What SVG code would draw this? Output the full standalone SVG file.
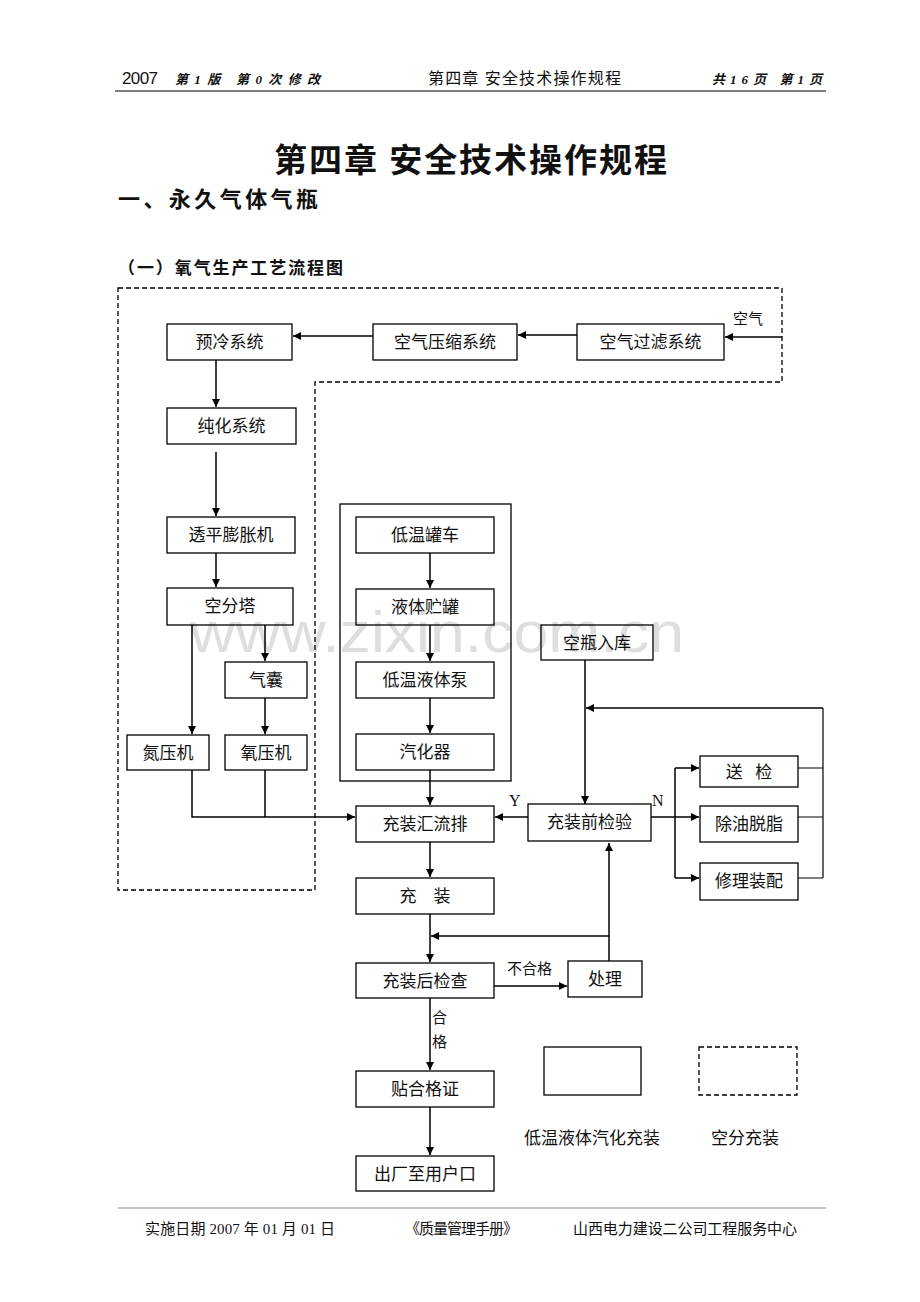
<svg xmlns="http://www.w3.org/2000/svg" width="920" height="1302" viewBox="0 0 920 1302">
<style>
.bx{fill:none;stroke:#000;stroke-width:1.3}
.t{font-family:"Liberation Serif","Noto Sans CJK SC",serif;font-size:17px;fill:#111;text-anchor:middle}
.ln{fill:none;stroke:#000;stroke-width:1.5}
.lb{font-family:"Liberation Serif","Noto Sans CJK SC",serif;font-size:15px;fill:#111}
.hd{font-family:"Liberation Serif","Noto Sans CJK SC",serif;fill:#111}
</style>
<defs>
<marker id="ar" viewBox="0 0 10 10" refX="10" refY="5" markerWidth="8" markerHeight="8" markerUnits="userSpaceOnUse" orient="auto">
<path d="M0,0 L10,5 L0,10 Z" fill="#000"/>
</marker>
</defs>
<rect width="920" height="1302" fill="#fff"/>

<g id="watermark">
<text x="190" y="652" style="font-family:'Liberation Sans',sans-serif;font-size:58px" fill="#dedede" textLength="494" lengthAdjust="spacingAndGlyphs">www.zixin.com.cn</text>
</g>

<g id="header">
<text x="122" y="84" style="font-family:'Liberation Sans',sans-serif;font-size:17px" fill="#111" textLength="36">2007</text>
<text class="hd" x="175" y="84" font-size="13" font-weight="bold" font-style="italic" textLength="145">第1版  第0次修改</text>
<text class="hd" x="428" y="84" font-size="16" textLength="193">第四章  安全技术操作规程</text>
<text class="hd" x="712" y="84" font-size="13" font-weight="bold" font-style="italic" textLength="110">共16页 第1页</text>
<line x1="115" y1="91" x2="826" y2="91" stroke="#555" stroke-width="1.5"/>
</g>

<g id="titles">
<text class="hd" x="274" y="172" font-size="33" font-weight="bold" textLength="393">第四章 安全技术操作规程</text>
<text class="hd" x="118" y="207" font-size="22" font-weight="bold" textLength="200">一、永久气体气瓶</text>
<text class="hd" x="118" y="274" font-size="17" font-weight="bold" textLength="225">（一）氧气生产工艺流程图</text>
</g>

<g id="regions">
<path d="M118,288 H782 V382 H315 V890 H118 Z" fill="none" stroke="#000" stroke-width="1.3" stroke-dasharray="5,3"/>
<rect x="340" y="504" width="171" height="277" fill="none" stroke="#000" stroke-width="1.3"/>
</g>

<g id="connectors">
<line class="ln" x1="782" y1="337" x2="725" y2="337" marker-end="url(#ar)"/>
<line class="ln" x1="577" y1="335" x2="518" y2="335" marker-end="url(#ar)"/>
<line class="ln" x1="373" y1="336" x2="293" y2="336" marker-end="url(#ar)"/>
<line class="ln" x1="216" y1="360" x2="216" y2="407" marker-end="url(#ar)"/>
<line class="ln" x1="216" y1="452" x2="216" y2="516" marker-end="url(#ar)"/>
<line class="ln" x1="216" y1="553" x2="216" y2="587" marker-end="url(#ar)"/>
<line class="ln" x1="192" y1="625" x2="192" y2="734" marker-end="url(#ar)"/>
<line class="ln" x1="265" y1="625" x2="265" y2="661" marker-end="url(#ar)"/>
<line class="ln" x1="265" y1="698" x2="265" y2="734" marker-end="url(#ar)"/>
<path class="ln" d="M192,770 V817 H355" marker-end="url(#ar)"/>
<line class="ln" x1="265" y1="770" x2="265" y2="817"/>
<line class="ln" x1="430" y1="553" x2="430" y2="588" marker-end="url(#ar)"/>
<line class="ln" x1="430" y1="625" x2="430" y2="661" marker-end="url(#ar)"/>
<line class="ln" x1="430" y1="698" x2="430" y2="733" marker-end="url(#ar)"/>
<line class="ln" x1="430" y1="770" x2="430" y2="805" marker-end="url(#ar)"/>
<line class="ln" x1="430" y1="842" x2="430" y2="877" marker-end="url(#ar)"/>
<line class="ln" x1="430" y1="914" x2="430" y2="962" marker-end="url(#ar)"/>
<line class="ln" x1="609" y1="936" x2="431" y2="936" marker-end="url(#ar)"/>
<line class="ln" x1="494" y1="986" x2="567" y2="986" marker-end="url(#ar)"/>
<line class="ln" x1="609" y1="961" x2="609" y2="843" marker-end="url(#ar)"/>
<line class="ln" x1="528" y1="817" x2="495" y2="817" marker-end="url(#ar)"/>
<line class="ln" x1="585" y1="660" x2="585" y2="804" marker-end="url(#ar)"/>
<line class="ln" x1="823" y1="708" x2="586" y2="708" marker-end="url(#ar)"/>
<line class="ln" x1="651" y1="817" x2="699" y2="817" marker-end="url(#ar)"/>
<line class="ln" x1="675" y1="768" x2="675" y2="878"/>
<line class="ln" x1="675" y1="768" x2="699" y2="768" marker-end="url(#ar)"/>
<line class="ln" x1="675" y1="878" x2="699" y2="878" marker-end="url(#ar)"/>
<path d="M798,768 H823 M798,817 H823 M798,878 H823 M823,708 V878" fill="none" stroke="#000" stroke-width="1.2"/>
<line class="ln" x1="430" y1="998" x2="430" y2="1070" marker-end="url(#ar)"/>
<line class="ln" x1="430" y1="1107" x2="430" y2="1155" marker-end="url(#ar)"/>
<text class="lb" x="733" y="324">空气</text>
<text class="lb" x="507" y="974">不合格</text>
<text x="509" y="806" style="font-family:'Liberation Serif',serif;font-size:16px" fill="#111">Y</text>
<text x="652" y="806" style="font-family:'Liberation Serif',serif;font-size:16px" fill="#111">N</text>
<text class="lb" x="432" y="1023">合</text>
<text class="lb" x="432" y="1047">格</text>
</g>

<g id="n-yuleng"><rect class="bx" x="167" y="324" width="125" height="36"/><text class="t" x="229.5" y="348">预冷系统</text></g>
<g id="n-yasuo"><rect class="bx" x="373" y="324" width="144" height="36"/><text class="t" x="445" y="348">空气压缩系统</text></g>
<g id="n-guolv"><rect class="bx" x="577" y="324" width="147" height="36"/><text class="t" x="650.5" y="348">空气过滤系统</text></g>
<g id="n-chunhua"><rect class="bx" x="167" y="408" width="129" height="36"/><text class="t" x="231.5" y="432">纯化系统</text></g>
<g id="n-touping"><rect class="bx" x="167" y="517" width="128" height="36"/><text class="t" x="231" y="541">透平膨胀机</text></g>
<g id="n-kongfenta"><rect class="bx" x="167" y="588" width="126" height="37"/><text class="t" x="230" y="612">空分塔</text></g>
<g id="n-qinang"><rect class="bx" x="225" y="662" width="82" height="36"/><text class="t" x="266" y="686">气囊</text></g>
<g id="n-danyaji"><rect class="bx" x="127" y="735" width="82" height="35"/><text class="t" x="168" y="759">氮压机</text></g>
<g id="n-yangyaji"><rect class="bx" x="225" y="735" width="82" height="35"/><text class="t" x="266" y="759">氧压机</text></g>
<g id="n-guanche"><rect class="bx" x="356" y="517" width="138" height="36"/><text class="t" x="425" y="541">低温罐车</text></g>
<g id="n-zhuguan"><rect class="bx" x="356" y="589" width="138" height="36"/><text class="t" x="425" y="613">液体贮罐</text></g>
<g id="n-beng"><rect class="bx" x="356" y="662" width="138" height="36"/><text class="t" x="425" y="686">低温液体泵</text></g>
<g id="n-qihuaqi"><rect class="bx" x="356" y="734" width="138" height="36"/><text class="t" x="425" y="758">汽化器</text></g>
<g id="n-huiliupai"><rect class="bx" x="356" y="806" width="138" height="36"/><text class="t" x="425" y="830">充装汇流排</text></g>
<g id="n-chongzhuang"><rect class="bx" x="356" y="878" width="138" height="36"/><text class="t" x="425" y="902" xml:space="preserve">充    装</text></g>
<g id="n-houjiancha"><rect class="bx" x="356" y="963" width="138" height="35"/><text class="t" x="425" y="987">充装后检查</text></g>
<g id="n-chuli"><rect class="bx" x="568" y="961" width="74" height="36"/><text class="t" x="605" y="985">处理</text></g>
<g id="n-qianjianyan"><rect class="bx" x="528" y="804" width="123" height="37"/><text class="t" x="589.5" y="828">充装前检验</text></g>
<g id="n-kongping"><rect class="bx" x="541" y="625" width="112" height="35"/><text class="t" x="597" y="649">空瓶入库</text></g>
<g id="n-songjian"><rect class="bx" x="700" y="756" width="98" height="31"/><text class="t" x="749" y="778" xml:space="preserve">送   检</text></g>
<g id="n-chuyou"><rect class="bx" x="700" y="806" width="98" height="36"/><text class="t" x="749" y="830" font-size="16">除油脱脂</text></g>
<g id="n-xiuli"><rect class="bx" x="700" y="863" width="98" height="37"/><text class="t" x="749" y="887" font-size="16">修理装配</text></g>
<g id="n-tiehege"><rect class="bx" x="356" y="1071" width="138" height="36"/><text class="t" x="425" y="1095">贴合格证</text></g>
<g id="n-chuchang"><rect class="bx" x="356" y="1156" width="138" height="35"/><text class="t" x="425" y="1180">出厂至用户口</text></g>

<g id="legend">
<rect x="544" y="1047" width="97" height="48" fill="none" stroke="#000" stroke-width="1.3"/>
<rect x="699" y="1047" width="98" height="48" fill="none" stroke="#000" stroke-width="1.3" stroke-dasharray="5,3"/>
<text class="t" x="592" y="1144">低温液体汽化充装</text>
<text class="t" x="745" y="1144">空分充装</text>
</g>

<g id="footer">
<line x1="118" y1="1208" x2="826" y2="1208" stroke="#888" stroke-width="1.2"/>
<text class="hd" x="145" y="1234" font-size="15" textLength="190">实施日期 2007 年 01 月 01 日</text>
<text class="hd" x="405" y="1234" font-size="15" textLength="113">《质量管理手册》</text>
<text class="hd" x="573" y="1234" font-size="15" textLength="224">山西电力建设二公司工程服务中心</text>
</g>
</svg>
